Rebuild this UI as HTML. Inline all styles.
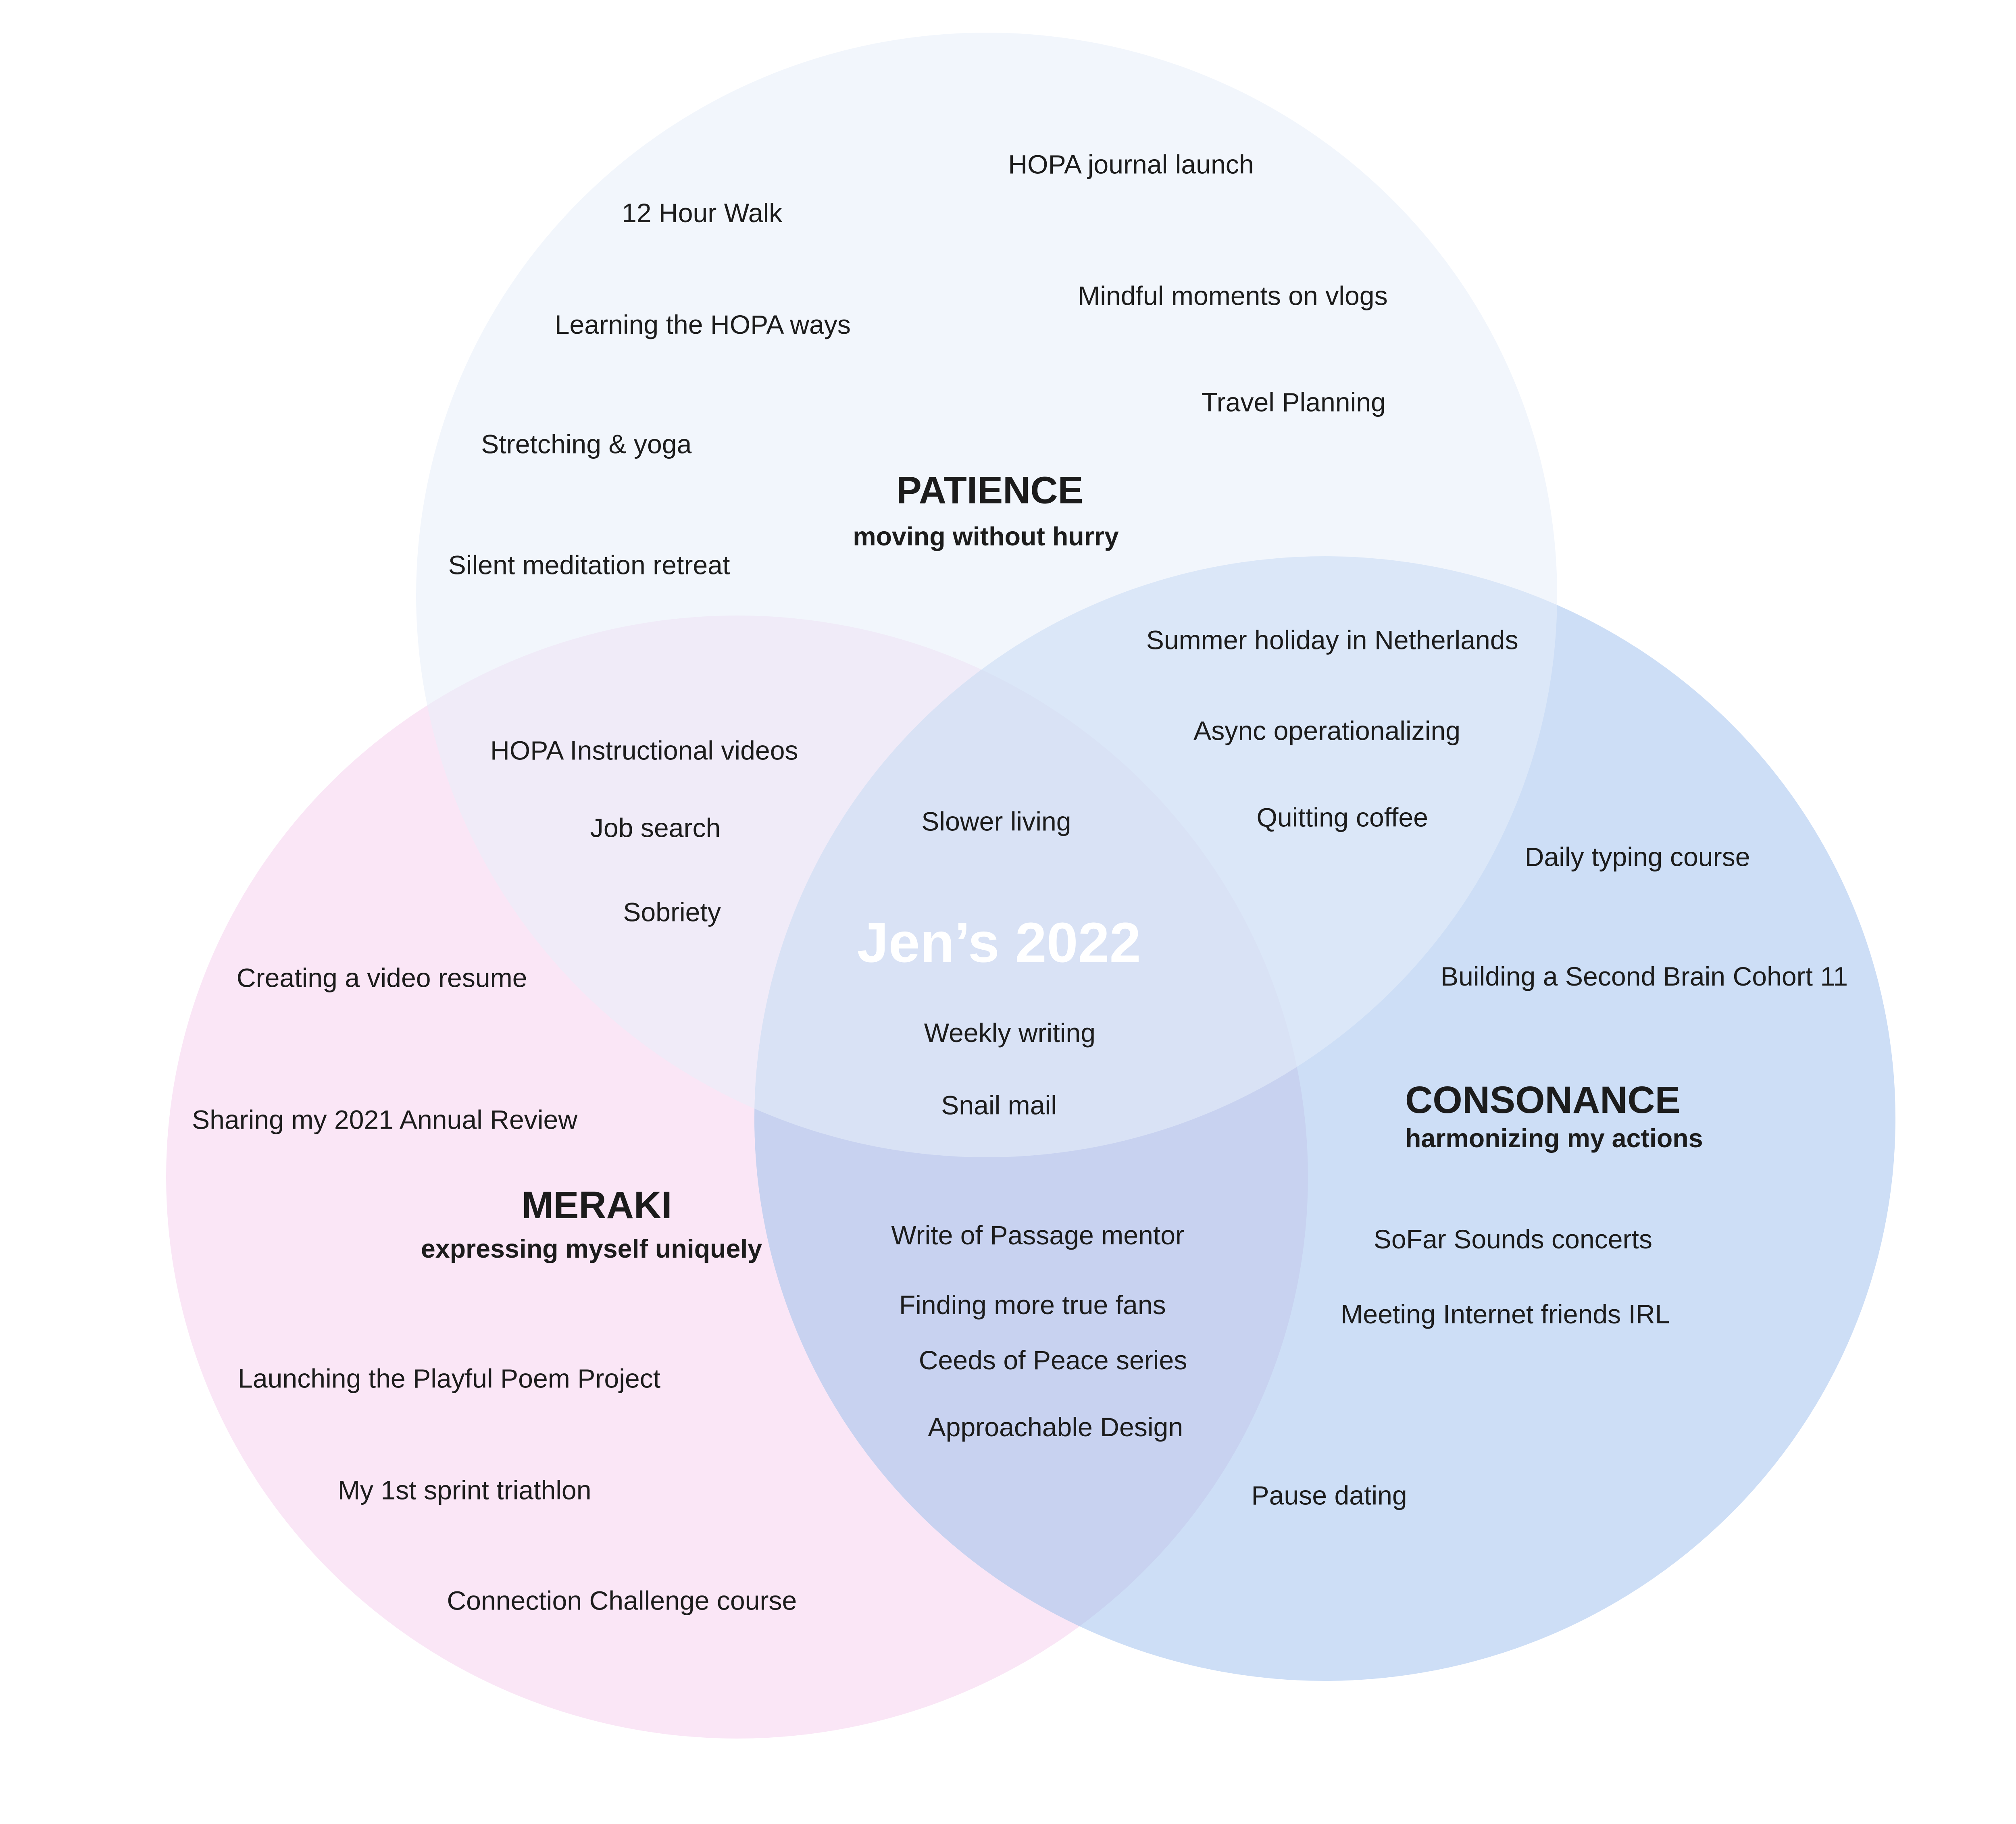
<!DOCTYPE html>
<html><head><meta charset="utf-8"><style>
html,body{margin:0;padding:0;background:#fff;}
svg{display:block}
text{font-family:"Liberation Sans",Arial,sans-serif;fill:#1c1c1c;font-size:20.3px}
.t{font-weight:bold;font-size:29px}
.s{font-weight:bold;font-size:19.8px}
</style></head><body>
<svg width="5112" height="4525" viewBox="0 0 5112 4525" xmlns="http://www.w3.org/2000/svg">
<defs><clipPath id="cm"><ellipse cx="1828" cy="2920" rx="1416" ry="1393"/></clipPath></defs>
<rect x="0" y="0" width="5112" height="4525" fill="#fff"/>
<ellipse cx="1828" cy="2920" rx="1416" ry="1393" fill="#fae6f6"/>
<ellipse cx="3286" cy="2775" rx="1415" ry="1395" fill="#cddef6"/>
<ellipse cx="3286" cy="2775" rx="1415" ry="1395" fill="#c8d2f0" clip-path="url(#cm)"/>
<ellipse cx="2447" cy="1476" rx="1415" ry="1395" fill="rgb(232,238,249)" fill-opacity="0.55"/>
<g transform="scale(3.26)">
<text x="767" y="132">HOPA journal launch</text>
<text x="473" y="169">12 Hour Walk</text>
<text x="820" y="232">Mindful moments on vlogs</text>
<text x="422" y="254">Learning the HOPA ways</text>
<text x="914" y="313">Travel Planning</text>
<text x="366" y="345">Stretching &amp; yoga</text>
<text class="t" x="753" y="383" text-anchor="middle">PATIENCE</text>
<text class="s" x="750" y="415" text-anchor="middle">moving without hurry</text>
<text x="341" y="437">Silent meditation retreat</text>
<text x="872" y="494">Summer holiday in Netherlands</text>
<text x="908" y="563">Async operationalizing</text>
<text x="373" y="578">HOPA Instructional videos</text>
<text x="956" y="629">Quitting coffee</text>
<text x="449" y="637">Job search</text>
<text x="701" y="632">Slower living</text>
<text x="1160" y="659">Daily typing course</text>
<text x="474" y="701">Sobriety</text>
<text x="760" y="732" text-anchor="middle" style="fill:#fff;font-weight:bold;font-size:43px">Jen’s 2022</text>
<text x="180" y="751">Creating a video resume</text>
<text x="1096" y="750">Building a Second Brain Cohort 11</text>
<text x="703" y="793">Weekly writing</text>
<text class="t" x="1069" y="847">CONSONANCE</text>
<text class="s" x="1069" y="873">harmonizing my actions</text>
<text x="716" y="848">Snail mail</text>
<text x="146" y="859">Sharing my 2021 Annual Review</text>
<text class="t" x="454" y="927" text-anchor="middle">MERAKI</text>
<text class="s" x="450" y="957" text-anchor="middle">expressing myself uniquely</text>
<text x="678" y="947">Write of Passage mentor</text>
<text x="1045" y="950">SoFar Sounds concerts</text>
<text x="684" y="1000">Finding more true fans</text>
<text x="1020" y="1007">Meeting Internet friends IRL</text>
<text x="699" y="1042">Ceeds of Peace series</text>
<text x="181" y="1056">Launching the Playful Poem Project</text>
<text x="706" y="1093">Approachable Design</text>
<text x="257" y="1141">My 1st sprint triathlon</text>
<text x="952" y="1145">Pause dating</text>
<text x="340" y="1225">Connection Challenge course</text>
</g>
</svg>
</body></html>
